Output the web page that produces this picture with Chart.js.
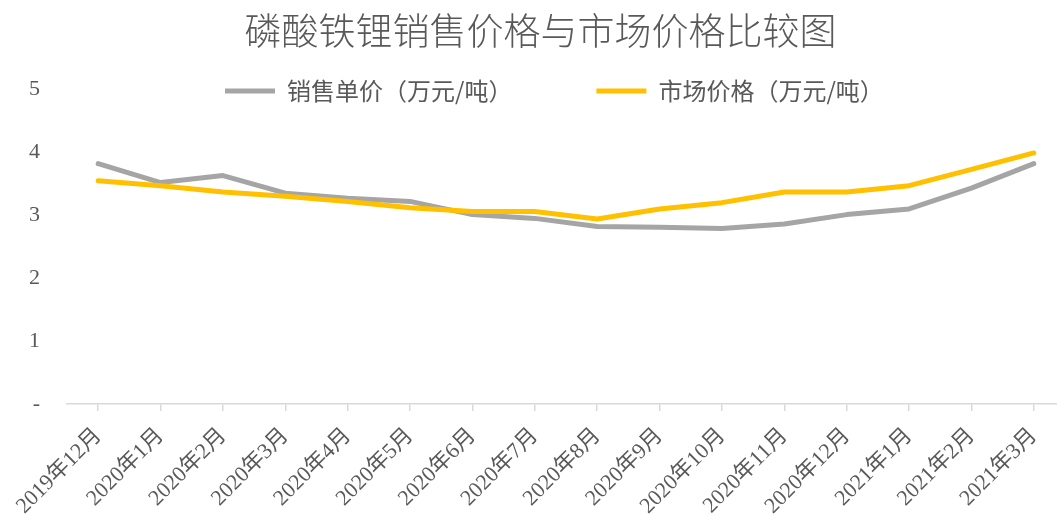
<!DOCTYPE html>
<html>
<head>
<meta charset="utf-8">
<script src="https://cdn.jsdelivr.net/npm/chart.js@4.4.1/dist/chart.umd.min.js"></script>
<style>
  html, body { margin: 0; padding: 0; background: #ffffff; }
  #wrap { width: 1057px; height: 515px; }
</style>
</head>
<body>
<div id="wrap"><canvas id="c" width="1057" height="515"></canvas></div>
<script>
const categories = ['2019年12月','2020年1月','2020年2月','2020年3月','2020年4月','2020年5月','2020年6月','2020年7月','2020年8月','2020年9月','2020年10月','2020年11月','2020年12月','2021年1月','2021年2月','2021年3月'];
const salesPrice = [3.82, 3.52, 3.63, 3.35, 3.27, 3.22, 3.01, 2.95, 2.82, 2.81, 2.79, 2.86, 3.01, 3.10, 3.43, 3.82];
const marketPrice = [3.55, 3.47, 3.37, 3.30, 3.22, 3.12, 3.06, 3.06, 2.94, 3.10, 3.20, 3.37, 3.37, 3.47, 3.73, 3.99];
const seriesNames = ['销售单价（万元/吨）', '市场价格（万元/吨）'];
const titleText = '磷酸铁锂销售价格与市场价格比较图';
const yTicks = [0, 1, 2, 3, 4, 5];

const textColor = '#595959';
const serif = "'Liberation Serif', 'Times New Roman', 'Noto Sans CJK SC', serif";
const sans = "'Noto Sans CJK SC', 'Noto Sans', sans-serif";

const LEGEND_PAD = 84;
const LEGEND_FONT = 24;

const layoutTweak = {
  id: 'layoutTweak',
  afterLayout(chart) {
    const tb = chart.titleBlock;
    if (tb) { tb.left += 12; tb.right += 12; }
    const lg = chart.legend;
    if (lg) {
      const top = 91 - LEGEND_PAD - LEGEND_FONT / 2;
      lg.top = top; lg.bottom = top + 160; lg.height = 160;
      const lw = (lg.lineWidths && lg.lineWidths[0]) || 0;
      const firstX = (lg.left + LEGEND_PAD + lg.right - lw) / 2;
      const dx = 225 - firstX;
      lg.left += dx; lg.right += dx;
    }
    const xs = chart.scales.x;
    if (xs) {
      xs.right = 1065;
      xs.width = xs.right - xs.left;
      xs.configure();
    }
  }
};

new Chart(document.getElementById('c'), {
  type: 'line',
  data: {
    labels: categories,
    datasets: [
      {
        label: seriesNames[0],
        data: salesPrice,
        borderColor: '#A5A5A5',
        backgroundColor: '#A5A5A5',
        borderWidth: 5,
        borderCapStyle: 'round',
        borderJoinStyle: 'round',
        pointRadius: 0,
        pointStyle: 'line',
        tension: 0,
        clip: false,
        order: 2
      },
      {
        label: seriesNames[1],
        data: marketPrice,
        borderColor: '#FFC000',
        backgroundColor: '#FFC000',
        borderWidth: 5,
        borderCapStyle: 'round',
        borderJoinStyle: 'round',
        pointRadius: 0,
        pointStyle: 'line',
        tension: 0,
        clip: false,
        order: 1
      }
    ]
  },
  options: {
    responsive: false,
    animation: false,
    devicePixelRatio: 1,
    layout: { padding: { left: 0, right: 0, top: 0, bottom: 0 } },
    plugins: {
      tooltip: { enabled: false },
      title: {
        display: true,
        text: titleText,
        color: textColor,
        font: { family: sans, size: 37, weight: 300 },
        padding: { top: 9, bottom: 26 }
      },
      legend: {
        display: true,
        position: 'top',
        align: 'center',
        maxHeight: 10,
        labels: {
          usePointStyle: true,
          pointStyleWidth: 50,
          padding: LEGEND_PAD,
          color: textColor,
          font: { family: sans, size: LEGEND_FONT },
          sort: (a, b) => a.datasetIndex - b.datasetIndex
        }
      }
    },
    scales: {
      x: {
        type: 'category',
        offset: true,
        grid: {
          display: true,
          drawOnChartArea: false,
          drawTicks: true,
          tickLength: 7,
          color: '#D9D9D9',
          lineWidth: 1.5
        },
        border: { display: true, color: '#D9D9D9', width: 1.5 },
        ticks: {
          autoSkip: false,
          maxRotation: 45,
          minRotation: 45,
          padding: 12,
          color: textColor,
          font: { family: serif, size: 22 }
        },
        afterFit(scale) { scale.height = 111; }
      },
      y: {
        min: yTicks[0],
        max: yTicks[yTicks.length - 1],
        grid: { display: false, drawTicks: false },
        border: { display: false },
        afterBuildTicks(scale) { scale.ticks = yTicks.map(v => ({ value: v })); },
        ticks: {
          padding: 27,
          color: textColor,
          font: { family: serif, size: 22 },
          callback: (v) => v === 0 ? '-' : String(v)
        },
        afterFit(scale) { scale.width = 67; }
      }
    }
  },
  plugins: [layoutTweak]
});
</script>
</body>
</html>
